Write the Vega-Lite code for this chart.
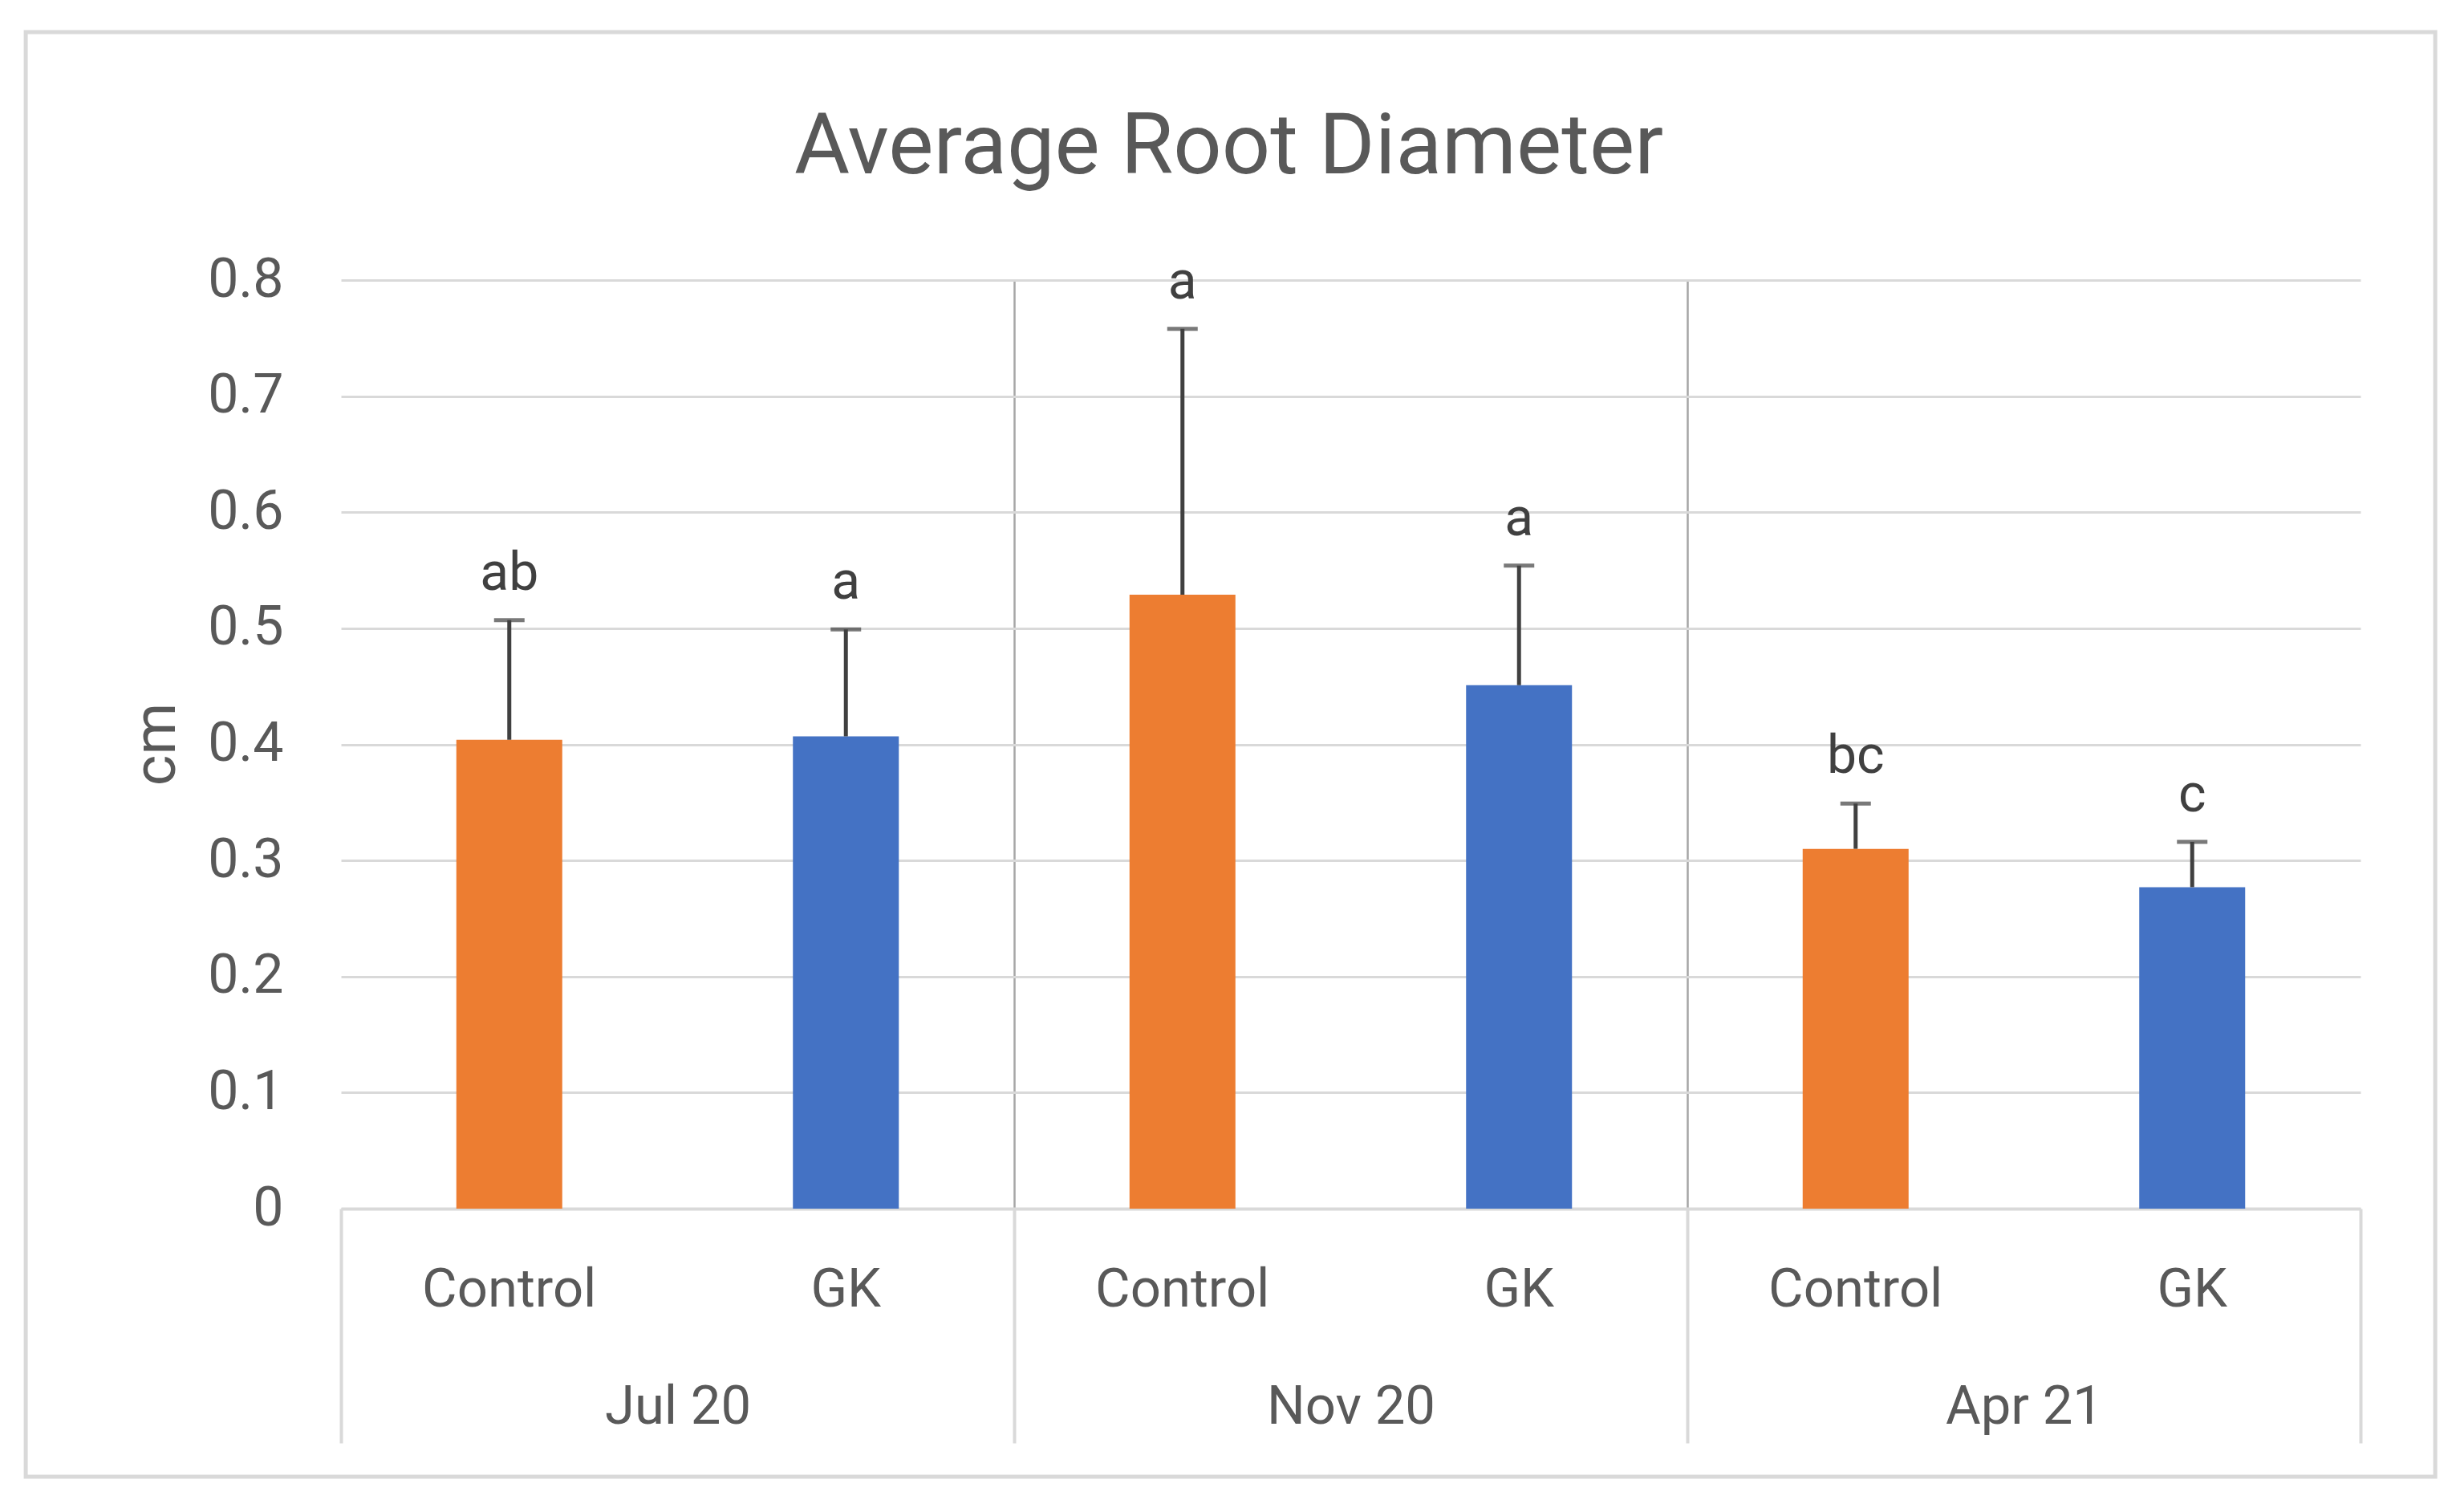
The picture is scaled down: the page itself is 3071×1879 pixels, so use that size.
{
  "$schema": "https://vega.github.io/schema/vega-lite/v6.json",
  "width": 2517,
  "height": 1157,
  "autosize": {"type": "none"},
  "padding": {"left": 425, "top": 349, "right": 129, "bottom": 373},
  "background": "white",
  "config": {"view": {"stroke": null}, "font": "Roboto"},
  "title": {
    "text": "Average Root Diameter",
    "font": "Roboto",
    "fontSize": 106,
    "fontWeight": "normal",
    "color": "#595959",
    "anchor": "middle",
    "frame": "group",
    "dx": -152,
    "baseline": "alphabetic",
    "offset": -284
  },
  "data": {
    "values": [
      {"period": "Jul 20", "treatment": "Control", "mean": 0.404, "upper": 0.507, "letter": "ab"},
      {"period": "Jul 20", "treatment": "GK", "mean": 0.407, "upper": 0.499, "letter": "a"},
      {"period": "Nov 20", "treatment": "Control", "mean": 0.529, "upper": 0.758, "letter": "a"},
      {"period": "Nov 20", "treatment": "GK", "mean": 0.451, "upper": 0.554, "letter": "a"},
      {"period": "Apr 21", "treatment": "Control", "mean": 0.31, "upper": 0.349, "letter": "bc"},
      {"period": "Apr 21", "treatment": "GK", "mean": 0.277, "upper": 0.316, "letter": "c"}
    ]
  },
  "layer": [
    {
      "encoding": {
        "x": {
          "field": "period",
          "type": "nominal",
          "sort": ["Jul 20", "Nov 20", "Apr 21"],
          "scale": {"paddingInner": 0, "paddingOuter": 0},
          "title": null,
          "axis": {
            "labelAngle": 0,
            "labelFont": "Roboto",
            "labelFontSize": 67,
            "labelColor": "#595959",
            "labelBaseline": "alphabetic",
            "labelPadding": -25,
            "labelLimit": 0,
            "tickBand": "extent",
            "tickSize": 292,
            "tickColor": "#d9d9d9",
            "tickWidth": 4,
            "domainColor": "#d9d9d9",
            "domainWidth": 4,
            "grid": true,
            "gridWidth": 2.5,
            "gridColor": {
              "condition": {"test": "datum.value == 'Jul 20' || datum.value == 'Nov 20'", "value": "#a6a6a6"},
              "value": "transparent"
            }
          }
        },
        "xOffset": {
          "field": "treatment",
          "type": "nominal",
          "scale": {"domain": ["Control", "GK"], "paddingInner": 0.6853, "paddingOuter": 0.3427}
        }
      },
      "layer": [
        {
          "mark": {"type": "bar"},
          "encoding": {
            "y": {
              "field": "mean",
              "type": "quantitative",
              "scale": {"domain": [0, 0.8], "nice": false, "zero": true},
              "axis": {
                "values": [0, 0.1, 0.2, 0.3, 0.4, 0.5, 0.6, 0.7, 0.8],
                "format": "~g",
                "grid": true,
                "gridColor": "#d9d9d9",
                "gridWidth": 3,
                "domain": false,
                "ticks": false,
                "labelFont": "Roboto",
                "labelFontSize": 68,
                "labelColor": "#595959",
                "labelPadding": 72,
                "title": "cm",
                "titleFont": "Roboto",
                "titleFontSize": 74,
                "titleFontWeight": "normal",
                "titleColor": "#595959",
                "titleAngle": -90,
                "titleAlign": "center",
                "titleBaseline": "alphabetic",
                "titleX": -208,
                "titleY": 578
              }
            },
            "color": {
              "field": "treatment",
              "type": "nominal",
              "scale": {"domain": ["Control", "GK"], "range": ["#ED7D31", "#4472C4"]},
              "legend": null
            }
          }
        },
        {
          "mark": {"type": "rule", "color": "#404040", "strokeWidth": 5},
          "encoding": {
            "y": {"field": "mean", "type": "quantitative"},
            "y2": {"field": "upper"}
          }
        },
        {
          "mark": {"type": "tick", "color": "#404040", "size": 38, "thickness": 5},
          "encoding": {
            "y": {"field": "upper", "type": "quantitative"}
          }
        },
        {
          "mark": {"type": "text", "font": "Roboto", "fontSize": 66, "color": "#404040", "baseline": "alphabetic", "dy": -38},
          "encoding": {
            "y": {"field": "upper", "type": "quantitative"},
            "text": {"field": "letter"}
          }
        },
        {
          "mark": {"type": "text", "font": "Roboto", "fontSize": 67, "color": "#595959", "baseline": "alphabetic", "dy": 122},
          "encoding": {
            "y": {"datum": 0, "type": "quantitative"},
            "text": {"field": "treatment"}
          }
        }
      ]
    },
    {
      "data": {"values": [{"frame": "chart area"}]},
      "mark": {"type": "rect", "filled": false, "stroke": "#d9d9d9", "strokeWidth": 5},
      "encoding": {
        "x": {"datum": -0.1561, "type": "quantitative", "scale": {"domain": [0, 1], "nice": false, "zero": false}, "axis": null},
        "x2": {"datum": 1.037},
        "y": {"datum": 1.267, "type": "quantitative", "scale": {"domain": [0, 1], "nice": false, "zero": false}, "axis": null},
        "y2": {"datum": -0.2886}
      }
    }
  ],
  "resolve": {"scale": {"x": "independent", "y": "independent"}, "axis": {"x": "independent", "y": "independent"}}
}
